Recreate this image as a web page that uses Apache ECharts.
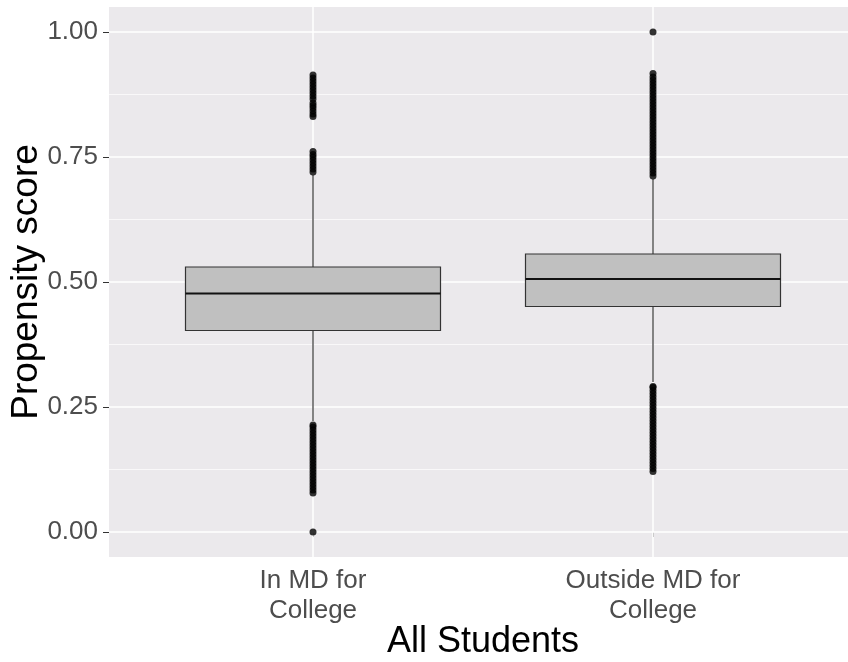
<!DOCTYPE html>
<html>
<head>
<meta charset="utf-8">
<script src="https://cdn.jsdelivr.net/npm/echarts@6/dist/echarts.min.js"></script>
<style>html,body{margin:0;padding:0;background:#fff;}#c{width:848px;height:662px;}</style>
</head>
<body>
<div id="c"></div>
<script>
const categories = ['In MD for\nCollege', 'Outside MD for\nCollege'];
const whiskerLow = [0.222, 0.300];
const q1 = [0.403, 0.451];
const median = [0.477, 0.506];
const q3 = [0.530, 0.556];
const whiskerHigh = [0.714, 0.706];
const outliersIn = [0.0,
  0.078,0.084,0.09,0.096,0.102,0.108,0.114,0.12,0.126,0.132,0.138,0.144,0.15,0.156,0.162,0.168,0.174,0.18,0.186,0.192,0.198,0.204,0.21,0.214,
  0.72,0.726,0.732,0.738,0.744,0.75,0.755,0.761,
  0.831,0.836,0.842,0.848,0.853,0.858,0.866,0.872,0.878,0.884,0.89,0.896,0.902,0.908,0.914];
const outliersOut = [
  0.121,0.127,0.133,0.139,0.145,0.151,0.157,0.163,0.169,0.175,0.181,0.187,0.193,0.199,0.205,0.211,0.217,0.223,0.229,0.235,0.241,0.247,0.253,0.259,0.265,0.271,0.277,0.283,0.289,0.291,
  0.712,0.718,0.724,0.73,0.736,0.742,0.748,0.754,0.76,0.766,0.772,0.778,0.784,0.79,0.796,0.802,0.808,0.814,0.82,0.826,0.832,0.838,0.844,0.85,0.856,0.862,0.868,0.874,0.88,0.886,0.892,0.898,0.904,0.91,0.917,
  1.0];
const yTicks = [0, 0.25, 0.5, 0.75, 1];
const yMinor = [0.125, 0.375, 0.625, 0.875];
const xTicks = [1, 2];

const boxData = categories.map((c, i) => [i + 1, whiskerLow[i], q1[i], median[i], q3[i], whiskerHigh[i]]);
const outlierData = [];
outliersIn.forEach(v => outlierData.push([1, v]));
outliersOut.forEach(v => outlierData.push([2, v]));
const gridData = [];
yTicks.forEach(v => gridData.push(['h', v, 1.5]));
yMinor.forEach(v => gridData.push(['h', v, 0.7]));
xTicks.forEach(v => gridData.push(['v', v, 1.5]));

const chart = echarts.init(document.getElementById('c'), null, {renderer: 'canvas'});
const FONT = 'Liberation Sans, Arial, sans-serif';
chart.setOption({
  animation: false,
  backgroundColor: '#ffffff',
  grid: {left: 109, top: 7, right: -9, bottom: 105, show: true, backgroundColor: '#EBE9EC', borderWidth: 0, containLabel: false, outerBoundsMode: 'none'},
  xAxis: {
    type: 'value', min: 0.4, max: 2.6,
    axisLine: {show: false},
    splitLine: {show: false},
    axisTick: {show: true, customValues: xTicks, length: 5, lineStyle: {color: '#333333'}},
    axisLabel: {customValues: xTicks, formatter: v => categories[Math.round(v) - 1], fontSize: 26, color: '#4D4D4D', fontFamily: FONT, lineHeight: 30, margin: 9},
    name: 'All Students', nameLocation: 'middle', nameGap: 67, nameMoveOverlap: false,
    nameTextStyle: {fontSize: 36, color: '#000', fontFamily: FONT}
  },
  yAxis: {
    type: 'value', min: -0.05, max: 1.05,
    axisLine: {show: false},
    splitLine: {show: false},
    axisTick: {show: true, customValues: yTicks, length: 6, lineStyle: {color: '#333333'}},
    axisLabel: {customValues: yTicks, formatter: v => v.toFixed(2), fontSize: 26, color: '#4D4D4D', fontFamily: FONT, margin: 11},
    name: 'Propensity score', nameLocation: 'middle', nameGap: 64, nameRotate: 90, nameMoveOverlap: false,
    nameTextStyle: {fontSize: 37, color: '#000', fontFamily: FONT}
  },
  series: [
    {
      type: 'custom', z: 1, silent: true, data: gridData,
      renderItem: (params, api) => {
        const d = gridData[params.dataIndex];
        let p1, p2;
        if (d[0] === 'h') { p1 = api.coord([0.4, d[1]]); p2 = api.coord([2.6, d[1]]); }
        else { p1 = api.coord([d[1], -0.05]); p2 = api.coord([d[1], 1.05]); }
        return {type: 'line', shape: {x1: p1[0], y1: p1[1], x2: p2[0], y2: p2[1]}, style: {stroke: '#ffffff', lineWidth: d[2]}};
      }
    },
    {
      type: 'custom', z: 2, data: boxData,
      renderItem: (params, api) => {
        const x = api.value(0), lo = api.value(1), a = api.value(2), m = api.value(3), b = api.value(4), hi = api.value(5);
        const hw = 0.375;
        const pLo = api.coord([x, lo]), pA = api.coord([x, a]), pB = api.coord([x, b]), pHi = api.coord([x, hi]);
        const tl = api.coord([x - hw, b]), br = api.coord([x + hw, a]);
        const ml = api.coord([x - hw, m]), mr = api.coord([x + hw, m]);
        const ws = {stroke: '#333333', lineWidth: 1.2};
        return {type: 'group', children: [
          {type: 'line', shape: {x1: pB[0], y1: pB[1], x2: pHi[0], y2: pHi[1]}, style: ws},
          {type: 'line', shape: {x1: pLo[0], y1: pLo[1], x2: pA[0], y2: pA[1]}, style: ws},
          {type: 'rect', shape: {x: tl[0], y: tl[1], width: br[0] - tl[0], height: br[1] - tl[1]}, style: {fill: '#C0C0C0', stroke: '#333333', lineWidth: 1.2}},
          {type: 'line', shape: {x1: ml[0], y1: ml[1], x2: mr[0], y2: mr[1]}, style: {stroke: '#111111', lineWidth: 2.2}}
        ]};
      }
    },
    {
      type: 'scatter', z: 3, data: outlierData, symbol: 'circle', symbolSize: 7,
      itemStyle: {color: '#000000'}
    }
  ]
});
</script>
</body>
</html>
